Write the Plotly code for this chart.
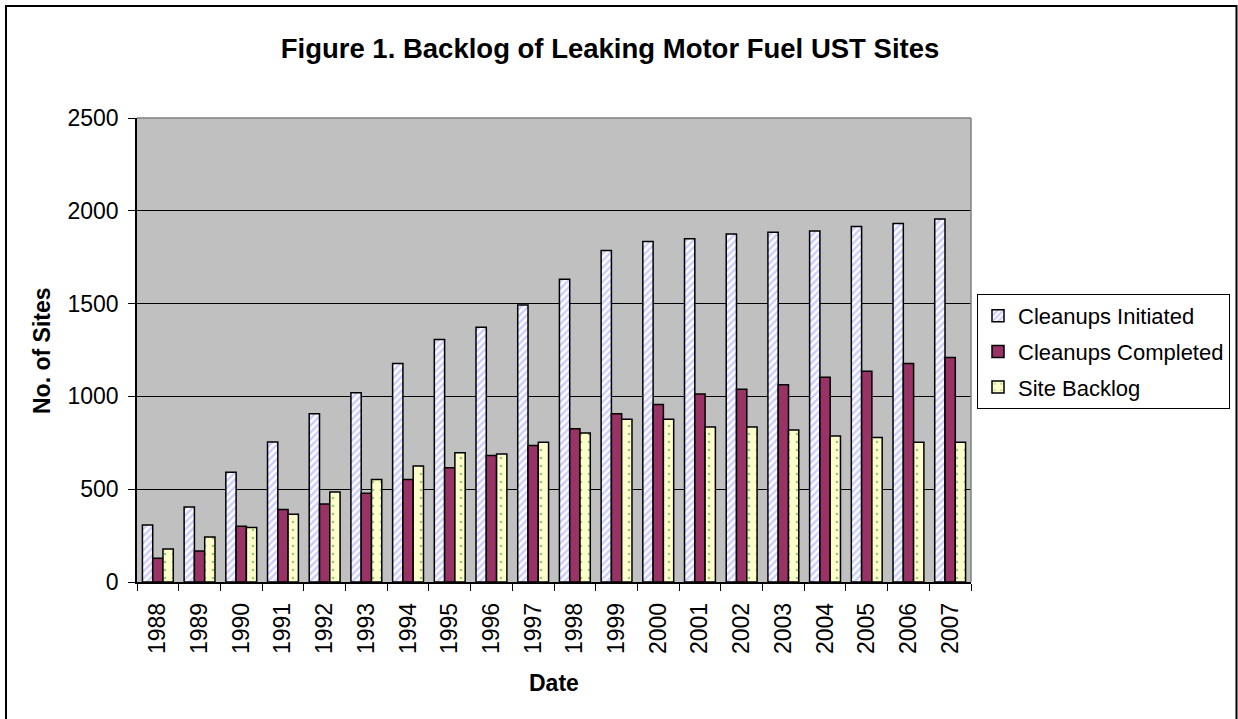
import plotly.graph_objects as go

years = [str(y) for y in range(1988, 2008)]
cleanups_initiated = [307, 404, 591, 754, 907, 1020, 1177, 1306, 1372, 1492,
                      1631, 1786, 1834, 1850, 1875, 1884, 1891, 1916, 1931, 1956]
cleanups_completed = [128, 167, 300, 390, 420, 478, 552, 616, 681, 736,
                      826, 907, 957, 1013, 1038, 1063, 1103, 1135, 1177, 1209]
site_backlog = [178, 242, 293, 365, 485, 552, 625, 697, 690, 753,
                803, 877, 877, 835, 835, 819, 787, 778, 753, 753]

FONT = "Liberation Sans, Arial, sans-serif"
FS = 23

fig = go.Figure()
fig.add_trace(go.Bar(
    x=years, y=cleanups_initiated, name="Cleanups Initiated", legendgroup="a",
    marker=dict(color="#FFFFFF", line=dict(color="#000000", width=1.5),
                pattern=dict(shape="/", fgcolor="#9999FF", size=5, solidity=0.5)),
))
fig.add_trace(go.Bar(
    x=years, y=cleanups_completed, name="Cleanups Completed", legendgroup="b",
    marker=dict(color="#993366", line=dict(color="#000000", width=1.5)),
))
fig.add_trace(go.Bar(
    x=years, y=site_backlog, name="Site Backlog", legendgroup="c",
    marker=dict(color="#FFFFCC", line=dict(color="#000000", width=1.5),
                pattern=dict(shape=".", fgcolor="#1E9E1E", size=8, solidity=0.08)),
))

L, R, T, B = 137, 267, 118, 137
W, H = 1238, 719
pw, ph = W - L - R, H - T - B

def px_x(x):
    return (x - L) / pw

def px_y(y):
    return (H - B - y) / ph

fig.update_layout(
    width=W, height=H,
    margin=dict(l=L, r=R, t=T, b=B, autoexpand=False),
    paper_bgcolor="#FFFFFF",
    plot_bgcolor="#C0C0C0",
    barmode="group",
    bargap=0.26,
    bargroupgap=0,
    font=dict(family=FONT, size=FS, color="#000000"),
    title=dict(text="<b>Figure 1. Backlog of Leaking Motor Fuel UST Sites</b>",
               font=dict(family=FONT, size=27.5, color="#000000"),
               xref="paper", x=px_x(610), xanchor="center",
               yref="container", y=1 - 48 / H, yanchor="middle"),
    showlegend=True,
    legend=dict(x=px_x(977), y=px_y(294), xanchor="left", yanchor="top",
                bgcolor="#FFFFFF", bordercolor="#000000", borderwidth=1,
                font=dict(family=FONT, size=22, color="#000000"),
                itemwidth=30, traceorder="grouped", tracegroupgap=4),
    xaxis=dict(type="category", showline=True, linecolor="#000000", linewidth=1.5,
               ticks="outside", tickson="boundaries", ticklen=7, tickcolor="#000000",
               tickangle=-90, showgrid=False, tickfont=dict(family=FONT, size=FS),
               ticklabelstandoff=10),
    yaxis=dict(range=[0, 2500], dtick=500, showline=True, linecolor="#000000", linewidth=1.5,
               ticks="outside", ticklen=7, tickcolor="#000000",
               showgrid=True, gridcolor="#000000", gridwidth=1, zeroline=False,
               tickfont=dict(family=FONT, size=FS), ticklabelstandoff=5),
    annotations=[
        dict(text="<b>No. of Sites</b>", xref="paper", yref="paper",
             x=px_x(42), y=px_y(351), textangle=-90, showarrow=False,
             font=dict(family=FONT, size=FS), xanchor="center", yanchor="middle"),
        dict(text="<b>Date</b>", xref="paper", yref="paper",
             x=px_x(554), y=px_y(683), showarrow=False,
             font=dict(family=FONT, size=FS), xanchor="center", yanchor="middle"),
    ],
    shapes=[
        dict(type="line", xref="paper", yref="paper", x0=0, x1=1, y0=1, y1=1,
             line=dict(color="#808080", width=1.5), layer="above"),
        dict(type="line", xref="paper", yref="paper", x0=1, x1=1, y0=0, y1=1,
             line=dict(color="#808080", width=1.5), layer="above"),
        dict(type="rect", xref="paper", yref="paper",
             x0=px_x(6), x1=px_x(1236.5), y0=px_y(730), y1=px_y(6),
             line=dict(color="#000000", width=2), fillcolor="rgba(0,0,0,0)", layer="above"),
    ],
)

fig.write_html("out.html", config={"displayModeBar": False},
               post_script="document.body.style.margin='0';document.body.style.overflow='hidden';")
